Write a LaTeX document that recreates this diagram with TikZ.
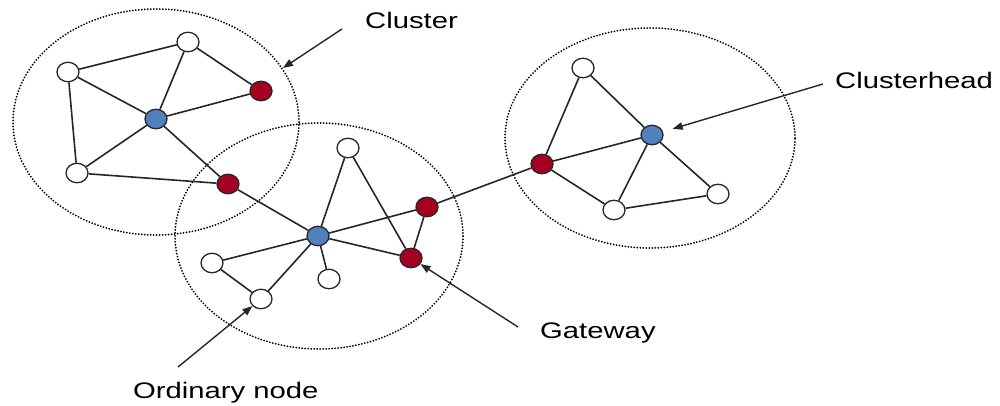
\documentclass[tikz,border=0pt]{standalone}
\usepackage{fontspec}
\setmainfont{Liberation Sans}
\usetikzlibrary{shapes.geometric,arrows.meta}
\definecolor{headblue}{HTML}{4F81BD}
\definecolor{gatered}{HTML}{A50021}
\definecolor{edgegray}{HTML}{262626}
\tikzset{
  vert/.style={ellipse, draw=edgegray, line width=1.3pt, inner sep=0pt,
    minimum width=22pt, minimum height=19.5pt},
  ordinary/.style={vert, fill=white},
  head/.style={vert, fill=headblue},
  gate/.style={vert, fill=gatered},
  cluster/.style={ellipse, draw=black, line width=2pt, inner sep=0pt,
    line cap=round, dash pattern=on 0pt off 3pt},
  link/.style={draw=edgegray, line width=1.6pt},
  pointer/.style={draw=edgegray, line width=1.4pt,
    -{Triangle[length=10pt,width=7.5pt]}},
  caption/.style={anchor=base west, inner sep=0pt, text=black,
    font=\fontsize{22.5}{27}\selectfont},
}
\newcommand{\wide}[1]{\scalebox{1.3}[1]{#1}}
\begin{document}
\begin{tikzpicture}[x=1pt,y=-1pt]
\useasboundingbox (0,0) rectangle (1000,406);

% dotted cluster boundaries
\node[cluster, minimum width=286pt, minimum height=226pt] (c1) at (156,122) {};
\node[cluster, minimum width=288pt, minimum height=226pt] (c2) at (319,236) {};
\node[cluster, minimum width=290pt, minimum height=220pt] (c3) at (650,138) {};

% cluster 1
\node[ordinary] (a) at (68,72) {};
\node[ordinary] (b) at (188,42) {};
\node[gate]     (c) at (261,91) {};
\node[head]     (d) at (156,119) {};
\node[ordinary] (e) at (77,173) {};
\node[gate]     (f) at (228,184) {};
% cluster 2
\node[ordinary] (l) at (348,148) {};
\node[head]     (m) at (318,236) {};
\node[gate]     (n) at (427,207) {};
\node[gate]     (o) at (411,258) {};
\node[ordinary] (p) at (212,263) {};
\node[ordinary] (q) at (329,279) {};
\node[ordinary] (r) at (261,299) {};
% cluster 3
\node[ordinary] (g) at (583,68) {};
\node[head]     (h) at (652,135) {};
\node[gate]     (i) at (542,164) {};
\node[ordinary] (j) at (614,210) {};
\node[ordinary] (k) at (718,194) {};

% links between vertices (they stop at the vertex borders)
\path[link]
  (a) -- (b) (a) -- (d) (a) -- (e) (b) -- (d) (b) -- (c)
  (c) -- (d) (d) -- (e) (d) -- (f) (e) -- (f)
  (f) -- (m)
  (m) -- (l) (m) -- (n) (m) -- (o) (m) -- (p) (m) -- (q) (m) -- (r)
  (p) -- (r) (l) -- (o) (n) -- (o)
  (n) -- (i)
  (i) -- (g) (i) -- (h) (i) -- (j) (g) -- (h) (h) -- (j) (h) -- (k) (j) -- (k);

% labels
\node[caption] (tcluster) at (365,29) {\wide{Cluster}};
\node[caption] (thead) at (835,89) {\wide{Clusterhead}};
\node[caption] (tgate) at (540,338) {\wide{Gateway}};
\node[caption] (tord) at (133,398) {\wide{Ordinary node}};

% pointers
\coordinate (clfrom) at (342,29);
\coordinate (clto) at (283,68);
\coordinate (hdfrom) at (823,84);
\coordinate (gwfrom) at (518,327);
\coordinate (orfrom) at (178,367);
\draw[pointer] (clfrom) -- (clto);
\draw[pointer, shorten >=10pt] (hdfrom) -- (h);
\draw[pointer] (gwfrom) -- (o);
\draw[pointer] (orfrom) -- (r);
\end{tikzpicture}
\end{document}
